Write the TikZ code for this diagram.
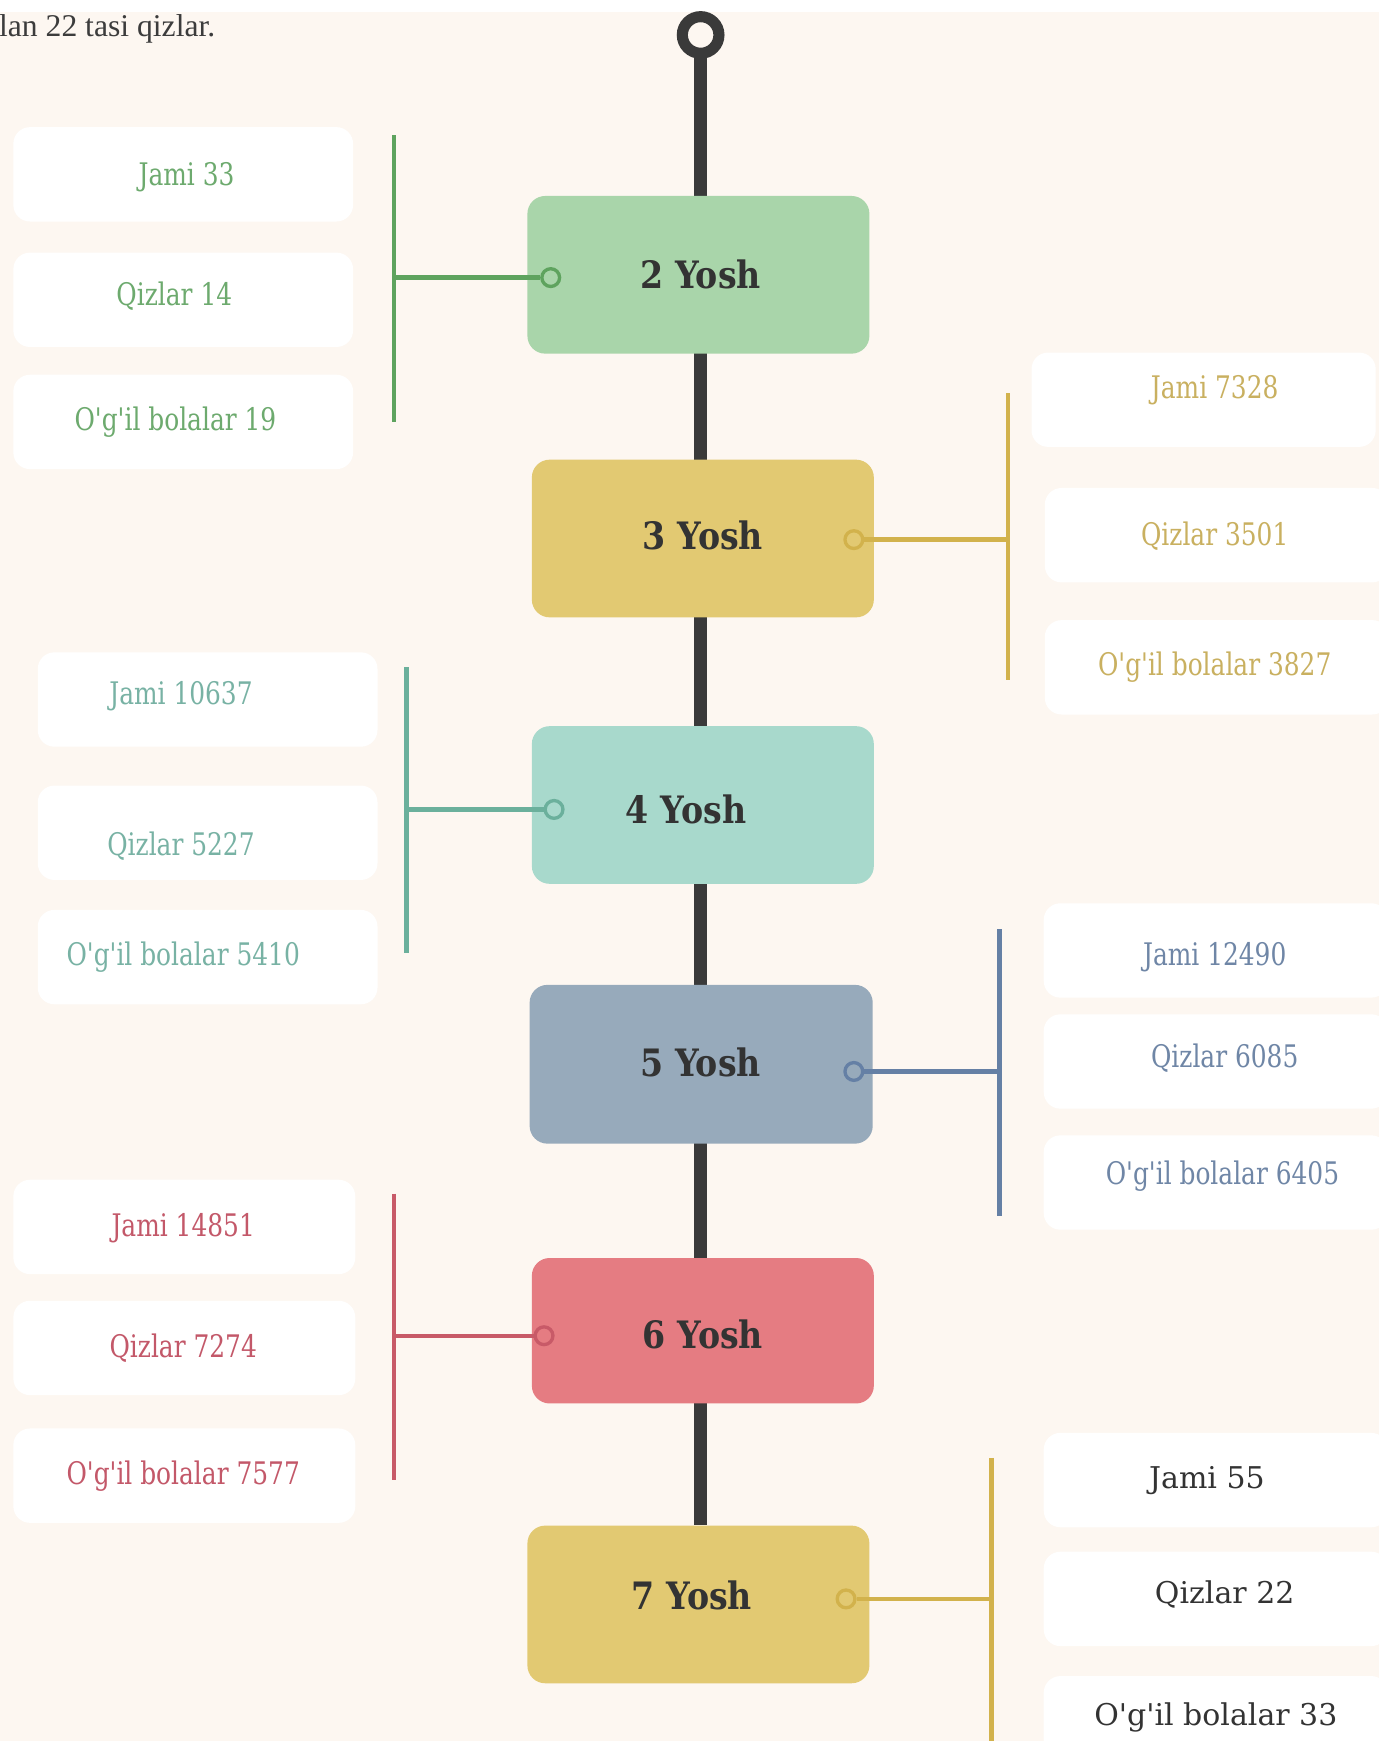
\documentclass[tikz,border=0pt]{standalone}
\usepackage{fontspec}
\setmainfont{Liberation Serif}
\newfontfamily\lblfam[FakeStretch=0.8]{DejaVu Serif}
\newfontfamily\ttlfam[FakeStretch=0.88]{DejaVu Serif}
\newfontfamily\plainfam{DejaVu Serif}
\usetikzlibrary{backgrounds}
\definecolor{bgc}{HTML}{FDF7F1}
\definecolor{spinec}{HTML}{3A3A3A}
\definecolor{darkt}{HTML}{333333}
\definecolor{topc}{HTML}{3C3C3C}
\definecolor{gbox}{HTML}{A9D5AA}\definecolor{gline}{HTML}{5EA35E}\definecolor{gtxt}{HTML}{6DAA6E}
\definecolor{ybox}{HTML}{E2C972}\definecolor{yline}{HTML}{D2B24C}\definecolor{ytxt}{HTML}{C9B060}
\definecolor{tbox}{HTML}{A8D9CC}\definecolor{tline}{HTML}{6BB09C}\definecolor{ttxt}{HTML}{78B2A4}
\definecolor{bbox}{HTML}{97AABB}\definecolor{bline}{HTML}{6580A5}\definecolor{btxt}{HTML}{6F86A6}
\definecolor{rbox}{HTML}{E57C82}\definecolor{rline}{HTML}{C85A68}\definecolor{rtxt}{HTML}{C35869}
\tikzset{
  agebox/.style={rounded corners=16pt, minimum width=308pt, minimum height=142pt, inner sep=0},
  ttl/.style={font=\ttlfam\bfseries\fontsize{34}{38}\selectfont, text=darkt, inner sep=0},
  dotc/.style={circle, line width=3pt, minimum size=16pt, inner sep=0},
  side/.style={line width=4pt},
  lblbox/.style={rounded corners=15pt, fill=white, minimum width=306pt, minimum height=85pt, inner sep=0},
  lbl/.style={font=\lblfam\fontsize{28}{32}\selectfont, inner sep=0},
  lbldark/.style={font=\plainfam\fontsize{27}{31}\selectfont, text=darkt, inner sep=0},
  spine/.style={line width=12pt, draw=spinec},
  topring/.style={circle, draw=spinec, line width=10pt, fill=bgc, minimum size=33pt, inner sep=0}
}
\begin{document}
\begin{tikzpicture}[x=1pt,y=-1pt]
\useasboundingbox (0,0) rectangle (1242,1568);
\clip (0,0) rectangle (1242,1568);
\begin{scope}[on background layer]
\fill[bgc] (0,0) rectangle (1242,1568);
\fill[white] (0,0) rectangle (1242,10.5);
\end{scope}
\node[anchor=base west, font=\fontsize{28.5}{32}\selectfont, text=topc, inner sep=0] (intro) at (-1,33) {lan 22 tasi qizlar.};

\node[topring] (top) at (631,31.5) {};

% ---------- 2 Yosh ----------
\node[agebox, fill=gbox] (b2) at (629,247.5) {};
\node[ttl] (t2) at (631,247) {2 Yosh};
\node[dotc, draw=gline, fill=gbox] (d2) at (496,250) {};
\coordinate (v2a) at (355,122); \coordinate (v2b) at (355,380);
\draw[side, gline] (v2a) -- (v2b);
\draw[side, gline] (d2) -- (d2 -| v2a);
\node[lblbox] (l2a) at (165,157) {}; \node[lbl, text=gtxt] (x2a) at (168,160) {Jami 33};
\node[lblbox] (l2b) at (165,270) {}; \node[lbl, text=gtxt] (x2b) at (157,267) {Qizlar 14};
\node[lblbox] (l2c) at (165,380) {}; \node[lbl, text=gtxt] (x2c) at (158,380) {O'g'il bolalar 19};

% ---------- 3 Yosh ----------
\node[agebox, fill=ybox] (b3) at (633,485) {};
\node[ttl] (t3) at (633,482) {3 Yosh};
\node[dotc, draw=yline, fill=ybox] (d3) at (769,486) {};
\coordinate (v3a) at (908,354); \coordinate (v3b) at (908,612);
\draw[side, yline] (v3a) -- (v3b);
\draw[side, yline] (d3) -- (d3 -| v3a);
\node[lblbox, minimum width=310pt] (l3a) at (1084,360) {}; \node[lbl, text=ytxt] (x3a) at (1094,351) {Jami 7328};
\node[lblbox, minimum width=310pt] (l3b) at (1096,482) {}; \node[lbl, text=ytxt] (x3b) at (1094,483) {Qizlar 3501};
\node[lblbox, minimum width=310pt] (l3c) at (1096,601) {}; \node[lbl, text=ytxt] (x3c) at (1094,601) {O'g'il bolalar 3827};

% ---------- 4 Yosh ----------
\node[agebox, fill=tbox] (b4) at (633,725) {};
\node[ttl] (t4) at (618,729) {4 Yosh};
\node[dotc, draw=tline, fill=tbox] (d4) at (499,729) {};
\coordinate (v4a) at (366,601); \coordinate (v4b) at (366,858);
\draw[side, tline] (v4a) -- (v4b);
\draw[side, tline] (d4) -- (d4 -| v4a);
\node[lblbox] (l4a) at (187,630) {}; \node[lbl, text=ttxt] (x4a) at (163,627) {Jami 10637};
\node[lblbox] (l4b) at (187,750) {}; \node[lbl, text=ttxt] (x4b) at (163,762) {Qizlar 5227};
\node[lblbox] (l4c) at (187,862) {}; \node[lbl, text=ttxt] (x4c) at (165,862) {O'g'il bolalar 5410};

% ---------- 5 Yosh ----------
\node[agebox, fill=bbox, minimum height=143pt, minimum width=309pt] (b5) at (631.5,958.5) {};
\node[ttl] (t5) at (631,957) {5 Yosh};
\node[dotc, draw=bline, fill=bbox] (d5) at (769,965) {};
\coordinate (v5a) at (900,837); \coordinate (v5b) at (900,1095);
\draw[side, bline] (v5a) -- (v5b);
\draw[side, bline] (d5) -- (d5 -| v5a);
\node[lblbox, minimum width=310pt] (l5a) at (1095,856) {}; \node[lbl, text=btxt] (x5a) at (1094,862) {Jami 12490};
\node[lblbox, minimum width=310pt] (l5b) at (1095,956) {}; \node[lbl, text=btxt] (x5b) at (1103,953) {Qizlar 6085};
\node[lblbox, minimum width=310pt] (l5c) at (1095,1065) {}; \node[lbl, text=btxt] (x5c) at (1101,1059) {O'g'il bolalar 6405};

% ---------- 6 Yosh ----------
\node[agebox, fill=rbox, minimum height=131pt] (b6) at (633,1198.5) {};
\node[ttl] (t6) at (633,1202) {6 Yosh};
\node[dotc, draw=rline, fill=rbox] (d6) at (490,1203) {};
\coordinate (v6a) at (355,1075); \coordinate (v6b) at (355,1333);
\draw[side, rline] (v6a) -- (v6b);
\draw[side, rline] (d6) -- (d6 -| v6a);
\node[lblbox, minimum width=308pt] (l6a) at (166,1105) {}; \node[lbl, text=rtxt] (x6a) at (165,1106) {Jami 14851};
\node[lblbox, minimum width=308pt] (l6b) at (166,1214) {}; \node[lbl, text=rtxt] (x6b) at (165,1214) {Qizlar 7274};
\node[lblbox, minimum width=308pt] (l6c) at (166,1329) {}; \node[lbl, text=rtxt] (x6c) at (165,1329) {O'g'il bolalar 7577};

% ---------- 7 Yosh ----------
\node[agebox, fill=ybox] (b7) at (629,1445) {};
\node[ttl] (t7) at (623,1437) {7 Yosh};
\node[dotc, draw=yline, fill=ybox] (d7) at (762,1440) {};
\coordinate (v7a) at (893,1313); \coordinate (v7b) at (893,1580);
\draw[side, yline] (v7a) -- (v7b);
\draw[side, yline] (d7) -- (d7 -| v7a);
\node[lblbox, minimum width=310pt] (l7a) at (1095,1333) {}; \node[lbldark] (x7a) at (1087,1333) {Jami 55};
\node[lblbox, minimum width=310pt] (l7b) at (1095,1440) {}; \node[lbldark] (x7b) at (1103,1436) {Qizlar 22};
\node[lblbox, minimum width=310pt] (l7c) at (1095,1552) {}; \node[lbldark] (x7c) at (1095,1547) {O'g'il bolalar 33};

% spine, behind boxes
\begin{scope}[on background layer]
\draw[spine] (top.center) -- (top.center |- b7.north);
\end{scope}
\end{tikzpicture}
\end{document}
